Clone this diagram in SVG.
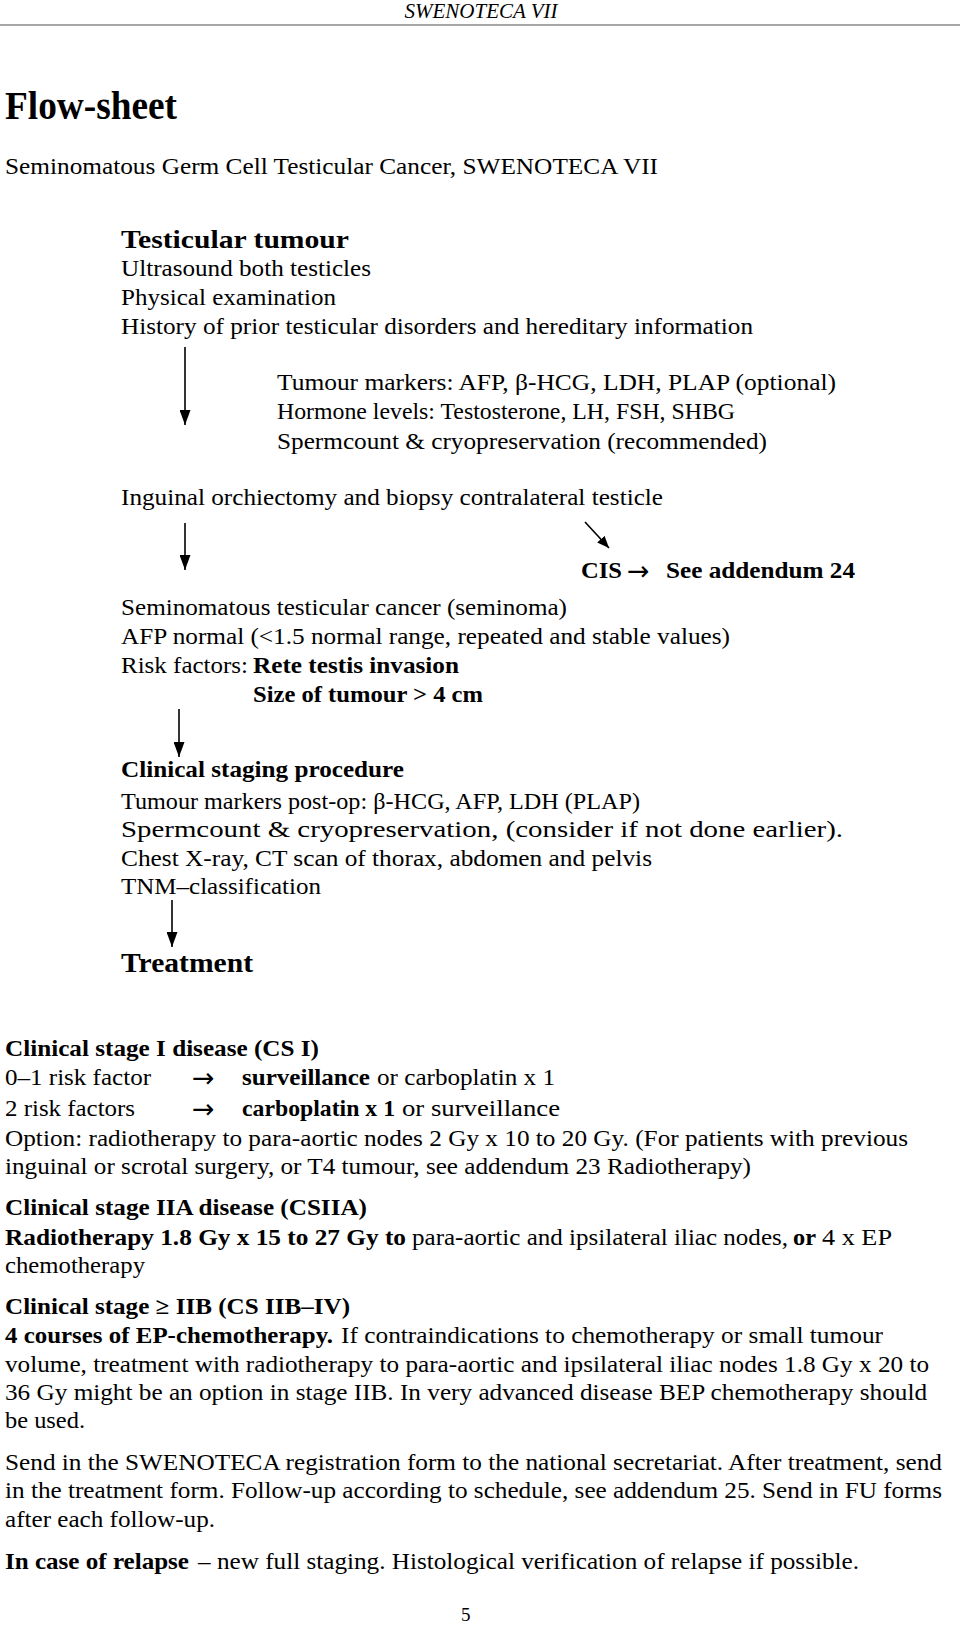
<svg xmlns="http://www.w3.org/2000/svg" width="960" height="1630" viewBox="0 0 960 1630" font-family="'Liberation Serif', 'Times New Roman', Times, serif">
<style>
text{font-family:'Liberation Serif','Times New Roman',Times,serif;font-size:23px;fill:#000}
.b{font-weight:bold}
.h{font-size:26px;font-weight:bold}
.tr{font-size:28px;font-weight:bold}
.t{font-size:39px;font-weight:bold}
.it{font-style:italic;font-size:21px}
.pg{font-size:19px}
.ar{font-family:'DejaVu Sans',sans-serif;font-size:27px;font-weight:normal}
.c{stroke:#000;stroke-width:1.6;fill:none}
</style>
<defs>
<marker id="ah" viewBox="0 0 15 11" refX="15" refY="5.5" markerWidth="15" markerHeight="11" markerUnits="userSpaceOnUse" orient="auto">
<path d="M0,0 L15,5.5 L0,11 Z" fill="#000"/>
</marker>
<marker id="ad" viewBox="0 0 12 10" refX="12" refY="5" markerWidth="12" markerHeight="10" markerUnits="userSpaceOnUse" orient="auto">
<path d="M0,0 L12,5 L0,10 Z" fill="#000"/>
</marker>
</defs>
<rect width="960" height="1630" fill="#fff"/>

<g id="header">
<text class="it" x="481" y="18" text-anchor="middle">SWENOTECA VII</text>
<line x1="0" y1="25" x2="960" y2="25" stroke="#888" stroke-width="1.5"/>
<text class="t" x="5" y="119" textLength="172" lengthAdjust="spacingAndGlyphs">Flow-sheet</text>
<text x="5" y="174" textLength="653" lengthAdjust="spacingAndGlyphs">Seminomatous Germ Cell Testicular Cancer, SWENOTECA VII</text>
</g>

<g id="node-tumour">
<text class="h" x="121" y="248" textLength="228" lengthAdjust="spacingAndGlyphs">Testicular tumour</text>
<text x="121" y="276" textLength="250" lengthAdjust="spacingAndGlyphs">Ultrasound both testicles</text>
<text x="121" y="305" textLength="215" lengthAdjust="spacingAndGlyphs">Physical examination</text>
<text x="121" y="334" textLength="632" lengthAdjust="spacingAndGlyphs">History of prior testicular disorders and hereditary information</text>
</g>

<g id="node-markers">
<text x="277" y="390" textLength="559" lengthAdjust="spacingAndGlyphs">Tumour markers: AFP, β-HCG, LDH, PLAP (optional)</text>
<text x="277" y="419" textLength="458" lengthAdjust="spacingAndGlyphs">Hormone levels: Testosterone, LH, FSH, SHBG</text>
<text x="277" y="449" textLength="490" lengthAdjust="spacingAndGlyphs">Spermcount &amp; cryopreservation (recommended)</text>
</g>

<g id="node-orchiectomy">
<text x="121" y="505" textLength="542" lengthAdjust="spacingAndGlyphs">Inguinal orchiectomy and biopsy contralateral testicle</text>
</g>

<g id="node-cis">
<text class="b" x="581" y="578" textLength="41" lengthAdjust="spacingAndGlyphs">CIS</text>
<text class="ar" x="627" y="580">→</text>
<text class="b" x="666" y="578" textLength="189" lengthAdjust="spacingAndGlyphs">See addendum 24</text>
</g>

<g id="node-seminoma">
<text x="121" y="615" textLength="446" lengthAdjust="spacingAndGlyphs">Seminomatous testicular cancer (seminoma)</text>
<text x="121" y="644" textLength="609" lengthAdjust="spacingAndGlyphs">AFP normal (&lt;1.5 normal range, repeated and stable values)</text>
<text x="121" y="673" textLength="127" lengthAdjust="spacingAndGlyphs">Risk factors:</text>
<text class="b" x="253" y="673" textLength="206" lengthAdjust="spacingAndGlyphs">Rete testis invasion</text>
<text class="b" x="253" y="702" textLength="230" lengthAdjust="spacingAndGlyphs">Size of tumour &gt; 4 cm</text>
</g>

<g id="node-staging">
<text class="b" x="121" y="777" textLength="283" lengthAdjust="spacingAndGlyphs">Clinical staging procedure</text>
<text x="121" y="809" textLength="519" lengthAdjust="spacingAndGlyphs">Tumour markers post-op: β-HCG, AFP, LDH (PLAP)</text>
<text x="121" y="837" textLength="722" lengthAdjust="spacingAndGlyphs">Spermcount &amp; cryopreservation, (consider if not done earlier).</text>
<text x="121" y="866" textLength="531" lengthAdjust="spacingAndGlyphs">Chest X-ray, CT scan of thorax, abdomen and pelvis</text>
<text x="121" y="894" textLength="200" lengthAdjust="spacingAndGlyphs">TNM–classification</text>
</g>

<g id="node-treatment">
<text class="tr" x="121" y="972" textLength="132" lengthAdjust="spacingAndGlyphs">Treatment</text>
</g>

<g id="connectors">
<line class="c" x1="185" y1="347" x2="185" y2="425" marker-end="url(#ah)"/>
<line class="c" x1="185" y1="523" x2="185" y2="570" marker-end="url(#ah)"/>
<line class="c" x1="585" y1="522" x2="609" y2="548" marker-end="url(#ad)"/>
<line class="c" x1="179" y1="709" x2="179" y2="757" marker-end="url(#ah)"/>
<line class="c" x1="172" y1="900" x2="172" y2="947" marker-end="url(#ah)"/>
</g>

<g id="stage-I">
<text class="b" x="5" y="1056" textLength="314" lengthAdjust="spacingAndGlyphs">Clinical stage I disease (CS I)</text>
<text x="5" y="1085" textLength="146" lengthAdjust="spacingAndGlyphs">0–1 risk factor</text>
<text class="ar" x="192" y="1087">→</text>
<text class="b" x="242" y="1085" textLength="128" lengthAdjust="spacingAndGlyphs">surveillance</text>
<text x="377" y="1085" textLength="178" lengthAdjust="spacingAndGlyphs">or carboplatin x 1</text>
<text x="5" y="1116" textLength="130" lengthAdjust="spacingAndGlyphs">2 risk factors</text>
<text class="ar" x="192" y="1118">→</text>
<text class="b" x="242" y="1116" textLength="153" lengthAdjust="spacingAndGlyphs">carboplatin x 1</text>
<text x="402" y="1116" textLength="158" lengthAdjust="spacingAndGlyphs">or surveillance</text>
<text x="5" y="1146" textLength="903" lengthAdjust="spacingAndGlyphs">Option: radiotherapy to para-aortic nodes 2 Gy x 10 to 20 Gy. (For patients with previous</text>
<text x="5" y="1174" textLength="746" lengthAdjust="spacingAndGlyphs">inguinal or scrotal surgery, or T4 tumour, see addendum 23 Radiotherapy)</text>
</g>

<g id="stage-IIA">
<text class="b" x="5" y="1215" textLength="362" lengthAdjust="spacingAndGlyphs">Clinical stage IIA disease (CSIIA)</text>
<text class="b" x="5" y="1245" textLength="401" lengthAdjust="spacingAndGlyphs">Radiotherapy 1.8 Gy x 15 to 27 Gy to</text>
<text x="412" y="1245" textLength="376" lengthAdjust="spacingAndGlyphs">para-aortic and ipsilateral iliac nodes,</text>
<text class="b" x="793" y="1245" textLength="23" lengthAdjust="spacingAndGlyphs">or</text>
<text x="822" y="1245" textLength="70" lengthAdjust="spacingAndGlyphs">4 x EP</text>
<text x="5" y="1273" textLength="140" lengthAdjust="spacingAndGlyphs">chemotherapy</text>
</g>

<g id="stage-IIB">
<text class="b" x="5" y="1314" textLength="345" lengthAdjust="spacingAndGlyphs">Clinical stage ≥ IIB (CS IIB–IV)</text>
<text class="b" x="5" y="1343" textLength="328" lengthAdjust="spacingAndGlyphs">4 courses of EP-chemotherapy.</text>
<text x="341" y="1343" textLength="542" lengthAdjust="spacingAndGlyphs">If contraindications to chemotherapy or small tumour</text>
<text x="5" y="1372" textLength="924" lengthAdjust="spacingAndGlyphs">volume, treatment with radiotherapy to para-aortic and ipsilateral iliac nodes 1.8 Gy x 20 to</text>
<text x="5" y="1400" textLength="922" lengthAdjust="spacingAndGlyphs">36 Gy might be an option in stage IIB. In very advanced disease BEP chemotherapy should</text>
<text x="5" y="1428" textLength="80" lengthAdjust="spacingAndGlyphs">be used.</text>
</g>

<g id="registration">
<text x="5" y="1470" textLength="937" lengthAdjust="spacingAndGlyphs">Send in the SWENOTECA registration form to the national secretariat. After treatment, send</text>
<text x="5" y="1498" textLength="937" lengthAdjust="spacingAndGlyphs">in the treatment form. Follow-up according to schedule, see addendum 25. Send in FU forms</text>
<text x="5" y="1527" textLength="210" lengthAdjust="spacingAndGlyphs">after each follow-up.</text>
</g>

<g id="relapse">
<text class="b" x="5" y="1569" textLength="184" lengthAdjust="spacingAndGlyphs">In case of relapse</text>
<text x="198" y="1569" textLength="661" lengthAdjust="spacingAndGlyphs">– new full staging. Histological verification of relapse if possible.</text>
</g>

<g id="footer">
<text class="pg" x="461" y="1621">5</text>
</g>
</svg>
